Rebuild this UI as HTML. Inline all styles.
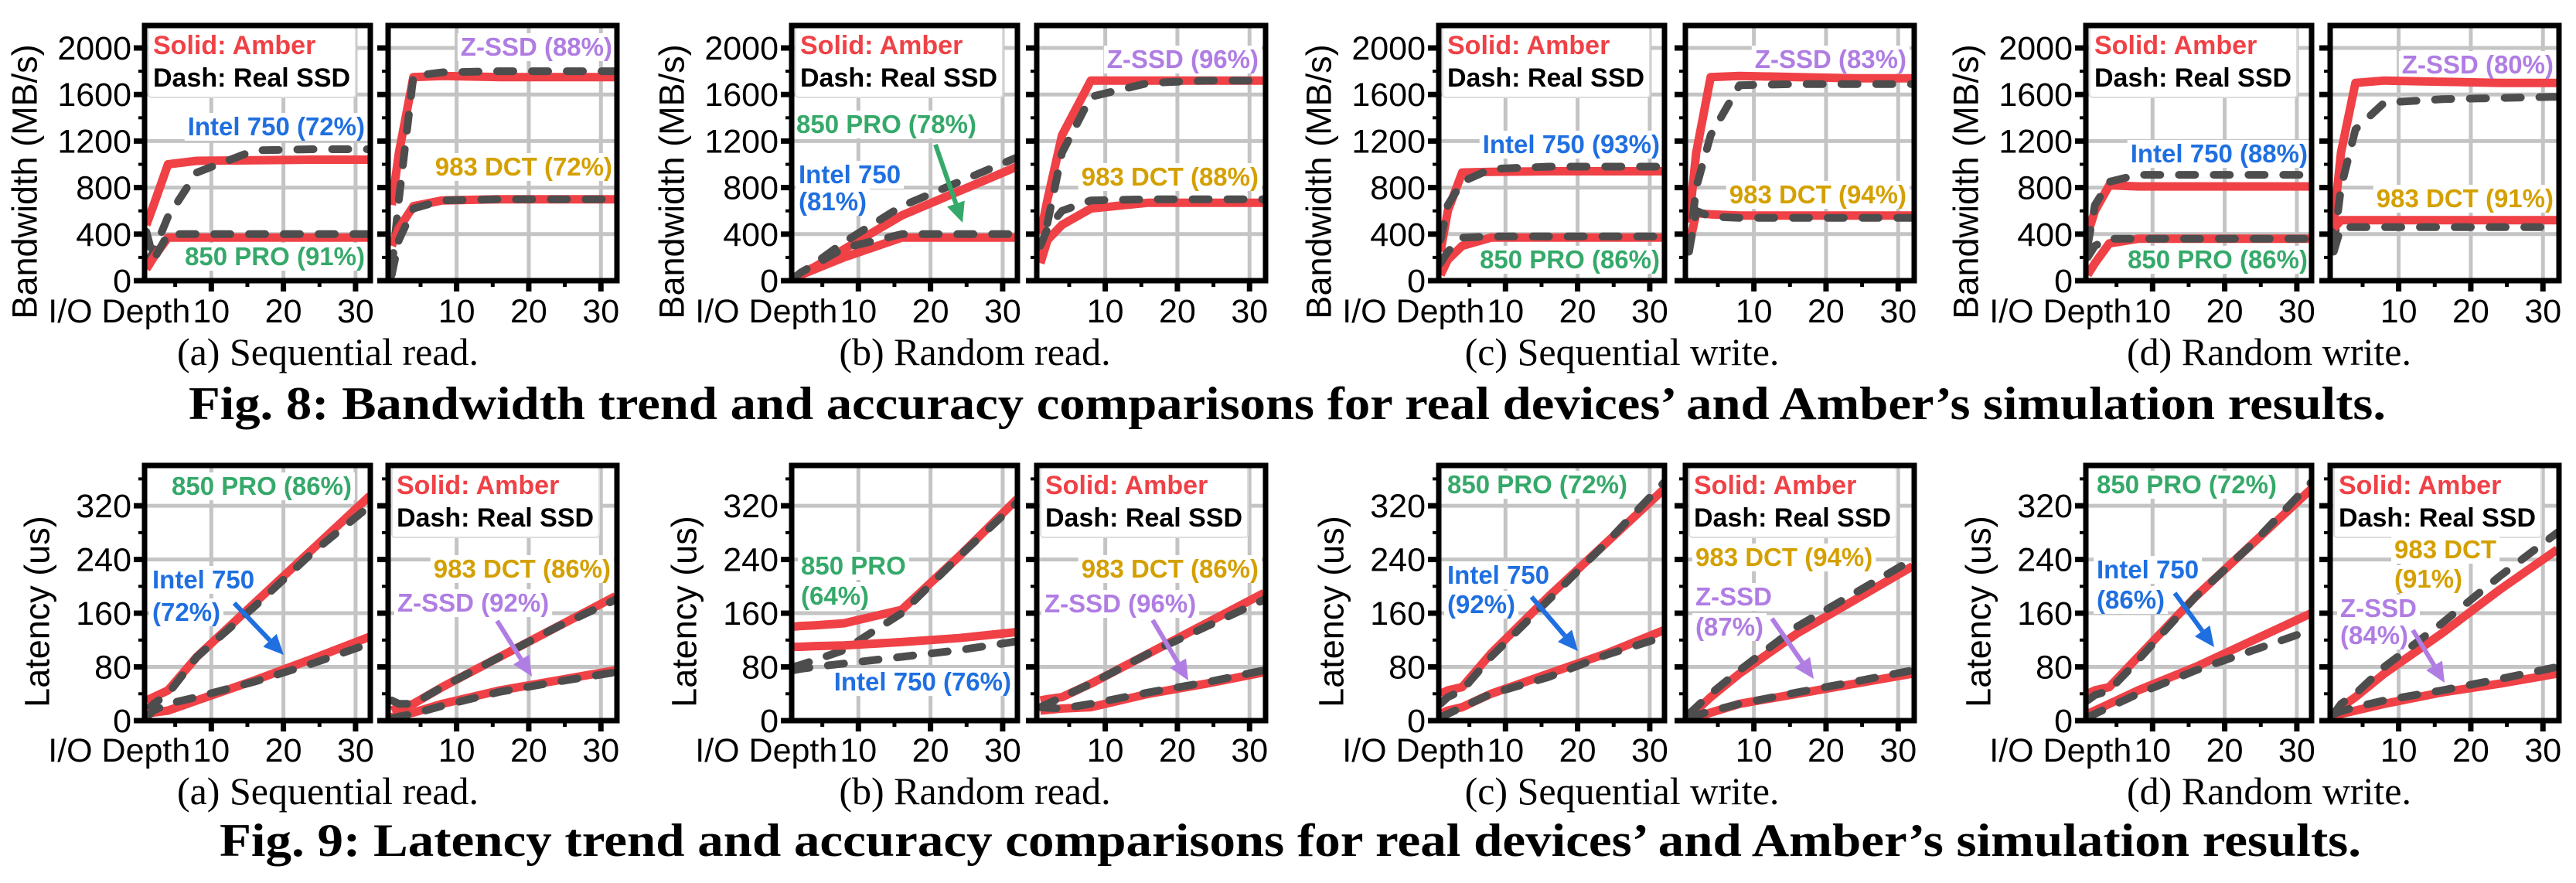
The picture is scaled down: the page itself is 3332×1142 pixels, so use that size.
<!DOCTYPE html>
<html><head><meta charset="utf-8"><title>Amber bandwidth and latency comparisons</title>
<style>
html,body{margin:0;padding:0;background:#fff;}
svg{display:block;}
</style></head>
<body>
<svg id="fig" xmlns="http://www.w3.org/2000/svg" width="3332" height="1142" viewBox="0 0 3332 1142"></svg>
<script>
// ---------- data: I/O depths ----------
const depths = [1, 2, 4, 8, 16, 24, 32];
const bwTicks = [0, 400, 800, 1200, 1600, 2000];
const latTicks = [0, 80, 160, 240, 320];
const xTicks = [10, 20, 30];

// ---------- Fig 8 bandwidth (MB/s) ----------
// (a) sequential read
const bwA_intelAmber = [480, 650, 1000, 1030, 1035, 1040, 1040];
const bwA_intelReal  = [150, 250, 550, 930, 1120, 1130, 1130];
const bwA_proAmber   = [100, 200, 370, 370, 370, 370, 370];
const bwA_proReal    = [420, 180, 400, 400, 400, 400, 400];
const bwA_zAmber     = [650, 1100, 1750, 1760, 1750, 1750, 1750];
const bwA_zReal      = [100, 700, 1760, 1790, 1800, 1800, 1800];
const bwA_dctAmber   = [300, 450, 640, 690, 700, 700, 700];
const bwA_dctReal    = [50, 350, 620, 690, 700, 700, 700];
// (b) random read
const bwB_intelAmber = [10, 60, 120, 270, 560, 770, 980];
const bwB_intelReal  = [20, 60, 150, 330, 640, 850, 1060];
const bwB_proAmber   = [10, 50, 100, 200, 370, 370, 370];
const bwB_proReal    = [20, 70, 140, 280, 400, 400, 400];
const bwB_zAmber     = [400, 700, 1250, 1720, 1720, 1720, 1720];
const bwB_zReal      = [200, 500, 1100, 1580, 1700, 1720, 1720];
const bwB_dctAmber   = [150, 350, 480, 620, 670, 670, 670];
const bwB_dctReal    = [300, 450, 600, 690, 700, 700, 700];
// (c) sequential write
const bwC_intelAmber = [250, 600, 930, 935, 940, 940, 940];
const bwC_intelReal  = [350, 650, 850, 960, 980, 980, 980];
const bwC_proAmber   = [50, 180, 300, 370, 370, 370, 370];
const bwC_proReal    = [150, 250, 370, 380, 380, 380, 380];
const bwC_zAmber     = [500, 1100, 1750, 1760, 1750, 1740, 1740];
const bwC_zReal      = [250, 800, 1250, 1680, 1690, 1690, 1690];
const bwC_dctAmber   = [300, 580, 570, 560, 560, 560, 560];
const bwC_dctReal    = [250, 600, 550, 540, 540, 540, 540];
// (d) random write
const bwD_intelAmber = [400, 600, 820, 810, 810, 810, 810];
const bwD_intelReal  = [300, 650, 850, 910, 910, 910, 910];
const bwD_proAmber   = [50, 150, 320, 360, 360, 360, 360];
const bwD_proReal    = [200, 300, 360, 360, 360, 360, 360];
const bwD_zAmber     = [500, 1100, 1700, 1720, 1710, 1700, 1700];
const bwD_zReal      = [300, 800, 1300, 1530, 1560, 1570, 1580];
const bwD_dctAmber   = [450, 520, 520, 520, 520, 520, 520];
const bwD_dctReal    = [250, 460, 460, 460, 460, 460, 460];

// ---------- Fig 9 latency (us) ----------
const latA_proAmber   = [30, 35, 45, 95, 175, 255, 335];
const latA_proReal    = [15, 25, 40, 95, 170, 250, 320];
const latA_intelAmber = [10, 12, 15, 30, 60, 92, 125];
const latA_intelReal  = [5, 15, 25, 35, 58, 85, 115];
const latA_dctAmber   = [15, 20, 25, 50, 95, 140, 185];
const latA_dctReal    = [30, 25, 25, 50, 95, 140, 180];
const latA_zAmber     = [5, 8, 12, 25, 45, 60, 75];
const latA_zReal      = [3, 6, 10, 22, 43, 58, 72];

const latB_proAmber   = [140, 141, 142, 145, 165, 245, 330];
const latB_proReal    = [80, 83, 90, 105, 160, 245, 325];
const latB_intelAmber = [110, 110, 111, 112, 117, 123, 132];
const latB_intelReal  = [75, 77, 80, 85, 95, 105, 118];
const latB_dctAmber   = [30, 32, 35, 55, 100, 145, 190];
const latB_dctReal    = [20, 25, 35, 55, 100, 140, 180];
const latB_zAmber     = [15, 16, 18, 20, 40, 55, 72];
const latB_zReal      = [20, 19, 18, 25, 42, 57, 75];

const latC_proAmber   = [40, 45, 50, 100, 185, 265, 345];
const latC_proReal    = [25, 35, 45, 95, 180, 265, 355];
const latC_intelAmber = [10, 15, 20, 40, 70, 100, 135];
const latC_intelReal  = [5, 10, 20, 40, 65, 98, 125];
const latC_dctAmber   = [5, 15, 35, 70, 130, 180, 230];
const latC_dctReal    = [10, 20, 40, 75, 140, 190, 240];
const latC_zAmber     = [0, 5, 12, 25, 40, 55, 70];
const latC_zReal      = [5, 8, 14, 25, 42, 58, 75];

const latD_proAmber   = [40, 45, 50, 95, 185, 265, 345];
const latD_proReal    = [30, 38, 45, 90, 185, 265, 355];
const latD_intelAmber = [10, 15, 25, 45, 80, 120, 160];
const latD_intelReal  = [5, 10, 20, 40, 75, 105, 135];
const latD_dctAmber   = [0, 20, 35, 70, 130, 195, 255];
const latD_dctReal    = [10, 25, 40, 80, 145, 215, 280];
const latD_zAmber     = [5, 10, 15, 25, 42, 55, 70];
const latD_zReal      = [10, 14, 20, 30, 45, 62, 80];

// ---------- layout ----------
const NS = 'http://www.w3.org/2000/svg';
const svg = document.getElementById('fig');
const C = {red:'#ef4146', dash:'#4d4d4d', grid:'#c4c4c4', blue:'#1f6fe0', green:'#35a96a', gold:'#d4a000', purple:'#b07de3'};
const PXU = 9.33;

function mk(tag, attrs, parent) {
  const el = document.createElementNS(NS, tag);
  for (const k in attrs) el.setAttribute(k, attrs[k]);
  (parent || svg).appendChild(el);
  return el;
}
function txt(str, attrs, parent) {
  const el = mk('text', attrs, parent);
  el.textContent = str;
  return el;
}

const groups = [
  {key:'a', cap:'(a) Sequential read.', gx:187, rx:502},
  {key:'b', cap:'(b) Random read.', gx:1024, rx:1341},
  {key:'c', cap:'(c) Sequential write.', gx:1861, rx:2180},
  {key:'d', cap:'(d) Random write.', gx:2698, rx:3014}
];
const rows = [
  {name:'bandwidth', yTop:33, yBot:363, ymax:2193, ticks:bwTicks, minor:200, ylab:'Bandwidth (MB/s)', ylabDx:-155, ylabCy:235, tickBase:417, capBase:472,
   series:{a:[bwA_intelAmber,bwA_intelReal,bwA_proAmber,bwA_proReal,bwA_zAmber,bwA_zReal,bwA_dctAmber,bwA_dctReal],
           b:[bwB_intelAmber,bwB_intelReal,bwB_proAmber,bwB_proReal,bwB_zAmber,bwB_zReal,bwB_dctAmber,bwB_dctReal],
           c:[bwC_intelAmber,bwC_intelReal,bwC_proAmber,bwC_proReal,bwC_zAmber,bwC_zReal,bwC_dctAmber,bwC_dctReal],
           d:[bwD_intelAmber,bwD_intelReal,bwD_proAmber,bwD_proReal,bwD_zAmber,bwD_zReal,bwD_dctAmber,bwD_dctReal]},
   legendIn:'left'},
  {name:'latency', yTop:602, yBot:932, ymax:380, ticks:latTicks, minor:40, ylab:'Latency (us)', ylabDx:-139, ylabCy:791, tickBase:985, capBase:1040,
   series:{a:[latA_proAmber,latA_proReal,latA_intelAmber,latA_intelReal,latA_dctAmber,latA_dctReal,latA_zAmber,latA_zReal],
           b:[latB_proAmber,latB_proReal,latB_intelAmber,latB_intelReal,latB_dctAmber,latB_dctReal,latB_zAmber,latB_zReal],
           c:[latC_proAmber,latC_proReal,latC_intelAmber,latC_intelReal,latC_dctAmber,latC_dctReal,latC_zAmber,latC_zReal],
           d:[latD_proAmber,latD_proReal,latD_intelAmber,latD_intelReal,latD_dctAmber,latD_dctReal,latD_zAmber,latD_zReal]},
   legendIn:'right'}
];

// annotations: [text, x, baseline, colorKey, anchor]
const annTop = {
  a:[['Intel 750 (72%)',472,175,'blue','end'],['850 PRO (91%)',472,343,'green','end'],['Z-SSD (88%)',792,72,'purple','end'],['983 DCT (72%)',792,227,'gold','end']],
  b:[['850 PRO (78%)',1030,172,'green','start'],['Intel 750',1033,237,'blue','start'],['(81%)',1033,272,'blue','start'],['Z-SSD (96%)',1628,88,'purple','end'],['983 DCT (88%)',1628,240,'gold','end']],
  c:[['Intel 750 (93%)',2147,198,'blue','end'],['850 PRO (86%)',2147,347,'green','end'],['Z-SSD (83%)',2466,88,'purple','end'],['983 DCT (94%)',2466,263,'gold','end']],
  d:[['Intel 750 (88%)',2985,210,'blue','end'],['850 PRO (86%)',2985,347,'green','end'],['Z-SSD (80%)',3303,95,'purple','end'],['983 DCT (91%)',3303,268,'gold','end']]
};
const annBot = {
  a:[['850 PRO (86%)',222,640,'green','start'],['Intel 750',197,761,'blue','start'],['(72%)',197,803,'blue','start'],['983 DCT (86%)',790,747,'gold','end'],['Z-SSD (92%)',514,791,'purple','start']],
  b:[['850 PRO',1036,743,'green','start'],['(64%)',1036,782,'green','start'],['Intel 750 (76%)',1308,893,'blue','end'],['983 DCT (86%)',1628,747,'gold','end'],['Z-SSD (96%)',1351,792,'purple','start']],
  c:[['850 PRO (72%)',1872,638,'green','start'],['Intel 750',1872,755,'blue','start'],['(92%)',1872,793,'blue','start'],['983 DCT (94%)',2193,732,'gold','start'],['Z-SSD',2193,783,'purple','start'],['(87%)',2193,822,'purple','start']],
  d:[['850 PRO (72%)',2712,638,'green','start'],['Intel 750',2712,748,'blue','start'],['(86%)',2712,787,'blue','start'],['983 DCT',3097,722,'gold','start'],['(91%)',3097,760,'gold','start'],['Z-SSD',3027,798,'purple','start'],['(84%)',3027,833,'purple','start']]
};
// arrows: [x1,y1,x2,y2,colorKey]
const arrowsTop = {b:[[1210,187,1245,288,'green']]};
const arrowsBot = {a:[[303,780,367,847,'blue'],[643,803,688,875,'purple']], b:[[1491,802,1537,880,'purple']],
  c:[[1981,772,2041,842,'blue'],[2292,800,2346,878,'purple']], d:[[2813,767,2864,837,'blue'],[3121,815,3162,883,'purple']]};

let clipId = 0;
function drawPanel(row, px0, width, xmin, seriesPair, label) {
  const g = mk('g', {});
  
  
  const yT = row.yTop, yB = row.yBot;
  const sx = x => px0 + (x - xmin) * PXU;
  const sy = v => yB - v * (yB - yT) / row.ymax;
  // grid
  row.ticks.forEach(t => {
    if (t === 0) return;
    const gl = mk('line', {x1:px0, x2:px0+width, y1:sy(t), y2:sy(t), stroke:C.grid, 'stroke-width':5}, g);
    
    
  });
  xTicks.forEach(t => {
    const gl = mk('line', {x1:sx(t), x2:sx(t), y1:yT, y2:yB, stroke:C.grid, 'stroke-width':5}, g);
    
    
  });
  const bgLayer = mk('g', {}, g);
  
  
  // series
  const cid = 'clip' + (clipId++);
  const cp = mk('clipPath', {id:cid}, g);
  mk('rect', {x:px0, y:yT, width:width, height:yB-yT}, cp);
  const sg = mk('g', {'clip-path':'url(#'+cid+')'}, g);
  
  
  for (let i = 0; i < seriesPair.length; i++) {
    const vals = seriesPair[i];
    const d = vals.map((v, j) => (j ? 'L' : 'M') + sx(depths[j]).toFixed(1) + ' ' + sy(v).toFixed(1)).join(' ');
    const isReal = i % 2 === 1;
    const p = mk('path', {d:d, fill:'none', stroke:isReal ? C.dash : C.red, 'stroke-width':isReal ? 10 : 11,
      'stroke-linejoin':'round', 'stroke-linecap':isReal ? 'round' : 'butt', 'stroke-dasharray':isReal ? '21 24' : 'none'}, sg);
    
    
  }
  // frame
  const fr = mk('rect', {x:px0, y:yT, width:width, height:yB-yT, fill:'none', stroke:'#000', 'stroke-width':7}, g);
  
  
  // y ticks
  row.ticks.forEach(t => {
    const tk = mk('line', {x1:px0-14, x2:px0, y1:sy(t), y2:sy(t), stroke:'#000', 'stroke-width':7}, g);
    
    
    const mt = t + row.minor;
    if (sy(mt) > yT + 5) {
      const m = mk('line', {x1:px0-8, x2:px0, y1:sy(mt), y2:sy(mt), stroke:'#000', 'stroke-width':4}, g);
      
      
    }
  });
  // x ticks
  xTicks.forEach(t => {
    const tk = mk('line', {x1:sx(t), x2:sx(t), y1:yB, y2:yB+14, stroke:'#000', 'stroke-width':7}, g);
    
    
    const m = mk('line', {x1:sx(t-5), x2:sx(t-5), y1:yB, y2:yB+8, stroke:'#000', 'stroke-width':5}, g);
    
    
    const tl = txt(String(t), {x:sx(t), y:row.tickBase, 'text-anchor':'middle', 'font-family':'Liberation Sans, Arial, sans-serif', 'font-size':43}, g);
    
    
  });
  return {g, bgLayer, sx, sy};
}

function addLabel(parent, bgLayer, a) {
  const t = txt(a[0], {x:a[1], y:a[2], 'text-anchor':a[4], fill:C[a[3]], 'font-family':'Liberation Sans, Arial, sans-serif', 'font-size':33, 'font-weight':'bold'}, parent);
  
  
  const bb = t.getBBox();
  const r = mk('rect', {x:bb.x-4, y:bb.y+1, width:bb.width+8, height:bb.height-1, fill:'#fff'}, bgLayer);
  
  
}
function addArrow(parent, a) {
  const [x1,y1,x2,y2,ck] = a;
  const ang = Math.atan2(y2-y1, x2-x1), L = 26, W = 12;
  const bx = x2 - L*Math.cos(ang), by = y2 - L*Math.sin(ang);
  const ag = mk('g', {}, parent);
  
  
  mk('line', {x1:x1, y1:y1, x2:bx, y2:by, stroke:C[ck], 'stroke-width':6}, ag);
  const pts = [[x2,y2],[bx - W*Math.sin(ang), by + W*Math.cos(ang)],[bx + W*Math.sin(ang), by - W*Math.cos(ang)]];
  mk('polygon', {points:pts.map(p => p[0].toFixed(1)+','+p[1].toFixed(1)).join(' '), fill:C[ck]}, ag);
}
function addLegend(parent, x, yTop) {
  const lg = mk('g', {}, parent);
  
  
  const r = mk('rect', {x:x, y:yTop, width:268, height:91, fill:'#fff', stroke:'#dddddd', 'stroke-width':2, rx:4}, lg);
  
  
  const t1 = txt('Solid: Amber', {x:x+6, y:yTop+35, fill:C.red, 'font-family':'Liberation Sans, Arial, sans-serif', 'font-size':34, 'font-weight':'bold'}, lg);
  
  
  const t2 = txt('Dash: Real SSD', {x:x+6, y:yTop+77, fill:'#000', 'font-family':'Liberation Sans, Arial, sans-serif', 'font-size':34, 'font-weight':'bold'}, lg);
  
  
}

rows.forEach((row, ri) => {
  const ann = ri === 0 ? annTop : annBot;
  const arr = ri === 0 ? arrowsTop : arrowsBot;
  groups.forEach(gp => {
    const s = row.series[gp.key];
    const L = drawPanel(row, gp.gx, 292, 0.75, s.slice(0,4), row.name + '-' + gp.key + '-left-panel');
    const R = drawPanel(row, gp.rx, 296, 0.5, s.slice(4,8), row.name + '-' + gp.key + '-right-panel');
    // legend
    if (row.legendIn === 'left') addLegend(L.bgLayer, gp.gx + 5, row.yTop + 2);
    else addLegend(R.bgLayer, gp.rx + 5, row.yTop + 2);
    // annotations
    ann[gp.key].forEach(a => {
      const tgt = a[1] < gp.rx - 10 ? L : R;
      addLabel(tgt.g, tgt.bgLayer, a);
    });
    (arr[gp.key] || []).forEach(a => addArrow(svg, a));
    // y tick labels (left panel only)
    row.ticks.forEach(t => {
      const tl = txt(String(t), {x:gp.gx-17, y:L.sy(t)+15, 'text-anchor':'end', 'font-family':'Liberation Sans, Arial, sans-serif', 'font-size':43}, svg);
      
      
    });
    const xl = txt('I/O Depth', {x:L.sx(10)-27, y:row.tickBase, 'text-anchor':'end', 'font-family':'Liberation Sans, Arial, sans-serif', 'font-size':43}, svg);
    
    
    const cx = gp.gx + row.ylabDx, cy = row.ylabCy;
    const yl = txt(row.ylab, {x:cx, y:cy, 'text-anchor':'middle', 'dominant-baseline':'central', transform:'rotate(-90 '+cx+' '+cy+')', 'font-family':'Liberation Sans, Arial, sans-serif', 'font-size':45}, svg);
    
    
    const cap = txt(gp.cap, {x:gp.gx+237, y:row.capBase, 'text-anchor':'middle', 'font-family':'Liberation Serif, Times New Roman, serif', 'font-size':50}, svg);
    
    
  });
});

const f8 = txt('Fig. 8: Bandwidth trend and accuracy comparisons for real devices\u2019 and Amber\u2019s simulation results.', {x:244, y:542, textLength:2842, lengthAdjust:'spacingAndGlyphs', 'font-family':'Liberation Serif, Times New Roman, serif', 'font-size':60, 'font-weight':'bold'}, svg);


const f9 = txt('Fig. 9: Latency trend and accuracy comparisons for real devices\u2019 and Amber\u2019s simulation results.', {x:284, y:1107, textLength:2770, lengthAdjust:'spacingAndGlyphs', 'font-family':'Liberation Serif, Times New Roman, serif', 'font-size':60, 'font-weight':'bold'}, svg);


</script>
</body></html>
